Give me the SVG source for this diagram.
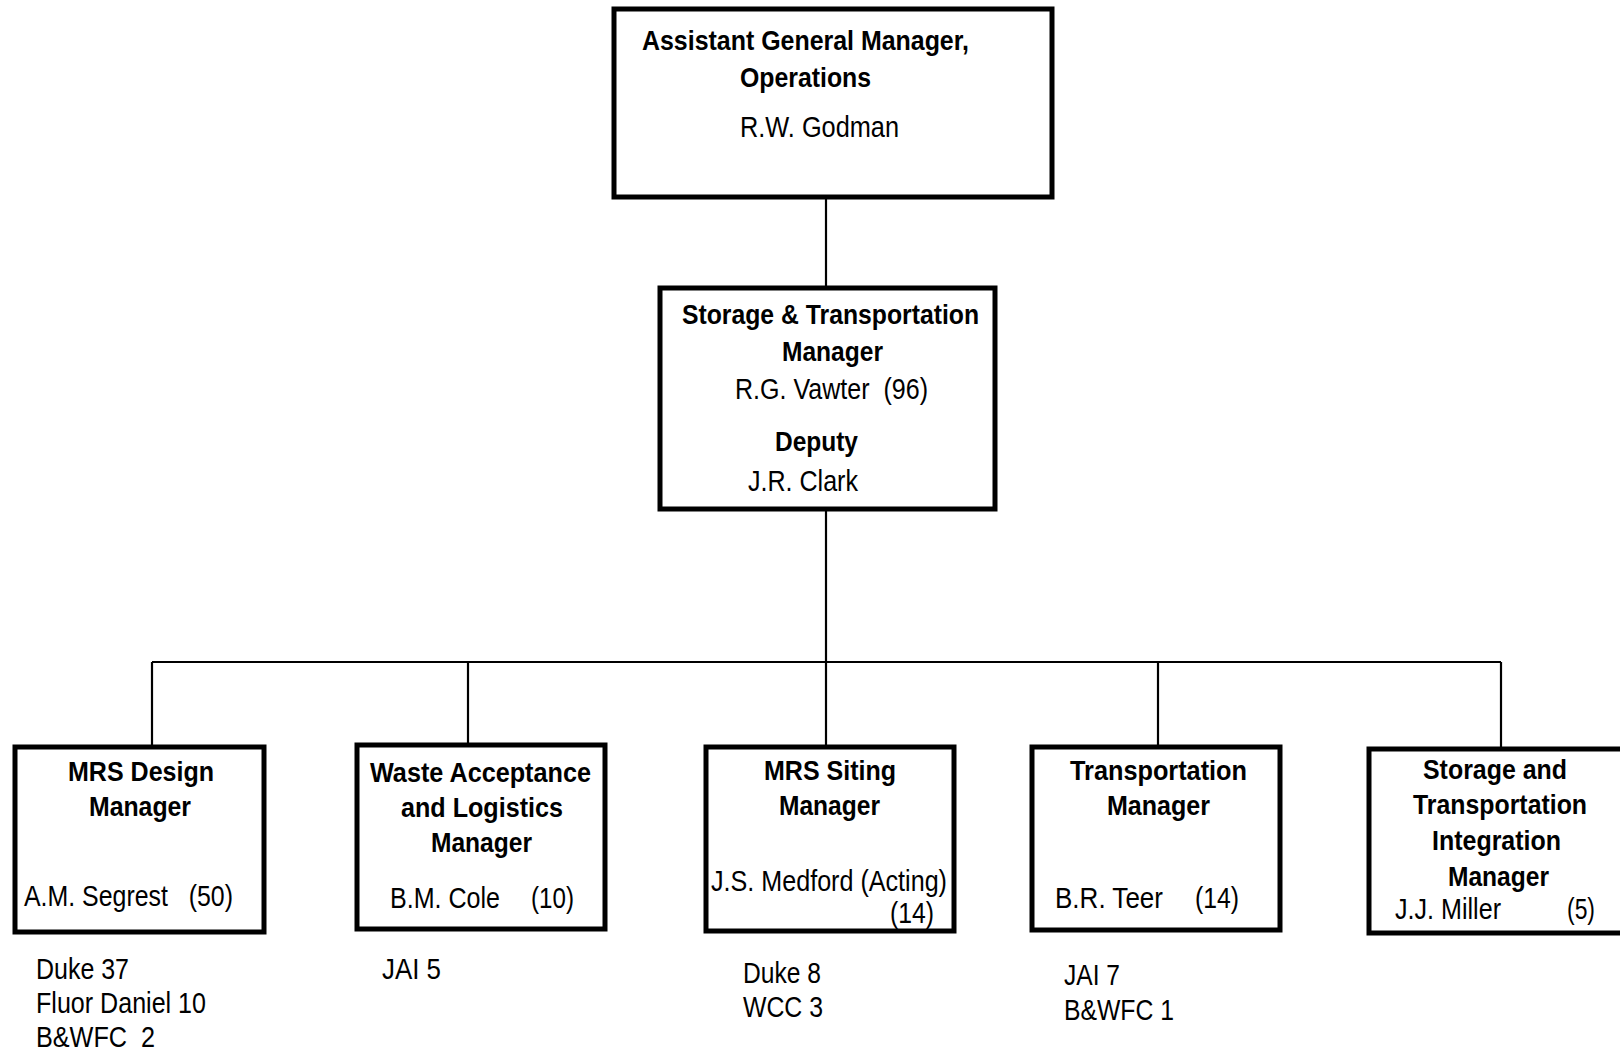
<svg xmlns="http://www.w3.org/2000/svg" width="1620" height="1052" viewBox="0 0 1620 1052">
<style>
.box{fill:#fff;stroke:#000;stroke-width:5}
.con{stroke:#000;stroke-width:2.2;fill:none}
text{font-family:"Liberation Sans",Arial,sans-serif;font-size:29.5px;fill:#000}
.b{font-weight:bold;font-size:28px}
.pre{white-space:pre}
</style>
<rect width="1620" height="1052" fill="#fff"/>
<g id="connectors">
<line class="con" x1="826" y1="198" x2="826" y2="286"/>
<line class="con" x1="826" y1="511" x2="826" y2="745"/>
<line class="con" x1="152" y1="662" x2="1501" y2="662"/>
<line class="con" x1="152" y1="662" x2="152" y2="745"/>
<line class="con" x1="468" y1="662" x2="468" y2="743"/>
<line class="con" x1="1158" y1="662" x2="1158" y2="745"/>
<line class="con" x1="1501" y1="662" x2="1501" y2="747"/>
</g>
<g id="agm">
<rect class="box" x="614" y="9" width="438" height="188"/>
<text class="b" x="642" y="50" textLength="327" lengthAdjust="spacingAndGlyphs">Assistant General Manager,</text>
<text class="b" x="740" y="87" textLength="131" lengthAdjust="spacingAndGlyphs">Operations</text>
<text x="740" y="137" textLength="159" lengthAdjust="spacingAndGlyphs">R.W. Godman</text>
</g>
<g id="stm">
<rect class="box" x="660" y="288" width="335" height="221"/>
<text class="b" x="682" y="324" textLength="297" lengthAdjust="spacingAndGlyphs">Storage &amp; Transportation</text>
<text class="b" x="782" y="361" textLength="101" lengthAdjust="spacingAndGlyphs">Manager</text>
<text class="pre" xml:space="preserve" x="735" y="399" textLength="193" lengthAdjust="spacingAndGlyphs">R.G. Vawter  (96)</text>
<text class="b" x="775" y="451" textLength="83" lengthAdjust="spacingAndGlyphs">Deputy</text>
<text x="748" y="491" textLength="110" lengthAdjust="spacingAndGlyphs">J.R. Clark</text>
</g>
<g id="mrs-design">
<rect class="box" x="15" y="747" width="249" height="185"/>
<text class="b" x="68" y="781" textLength="146" lengthAdjust="spacingAndGlyphs">MRS Design</text>
<text class="b" x="89" y="816" textLength="102" lengthAdjust="spacingAndGlyphs">Manager</text>
<text class="pre" xml:space="preserve" x="24" y="906" textLength="209" lengthAdjust="spacingAndGlyphs">A.M. Segrest   (50)</text>
<text x="36" y="979" textLength="93" lengthAdjust="spacingAndGlyphs">Duke 37</text>
<text x="36" y="1013" textLength="170" lengthAdjust="spacingAndGlyphs">Fluor Daniel 10</text>
<text class="pre" xml:space="preserve" x="36" y="1047" textLength="119" lengthAdjust="spacingAndGlyphs">B&amp;WFC  2</text>
</g>
<g id="waste">
<rect class="box" x="357" y="745" width="248" height="184"/>
<text class="b" x="370" y="782" textLength="221" lengthAdjust="spacingAndGlyphs">Waste Acceptance</text>
<text class="b" x="401" y="817" textLength="162" lengthAdjust="spacingAndGlyphs">and Logistics</text>
<text class="b" x="431" y="852" textLength="101" lengthAdjust="spacingAndGlyphs">Manager</text>
<text x="390" y="908" textLength="110" lengthAdjust="spacingAndGlyphs">B.M. Cole</text>
<text x="531" y="908" textLength="43" lengthAdjust="spacingAndGlyphs">(10)</text>
<text x="382" y="979" textLength="59" lengthAdjust="spacingAndGlyphs">JAI 5</text>
</g>
<g id="mrs-siting">
<rect class="box" x="706" y="747" width="248" height="184"/>
<text class="b" x="764" y="780" textLength="132" lengthAdjust="spacingAndGlyphs">MRS Siting</text>
<text class="b" x="779" y="815" textLength="101" lengthAdjust="spacingAndGlyphs">Manager</text>
<text x="711" y="891" textLength="236" lengthAdjust="spacingAndGlyphs">J.S. Medford (Acting)</text>
<text x="890" y="923" textLength="44" lengthAdjust="spacingAndGlyphs">(14)</text>
<text x="743" y="983" textLength="78" lengthAdjust="spacingAndGlyphs">Duke 8</text>
<text x="743" y="1017" textLength="80" lengthAdjust="spacingAndGlyphs">WCC 3</text>
</g>
<g id="transport">
<rect class="box" x="1032" y="747" width="248" height="183"/>
<text class="b" x="1070" y="780" textLength="177" lengthAdjust="spacingAndGlyphs">Transportation</text>
<text class="b" x="1107" y="815" textLength="103" lengthAdjust="spacingAndGlyphs">Manager</text>
<text x="1055" y="908" textLength="108" lengthAdjust="spacingAndGlyphs">B.R. Teer</text>
<text x="1195" y="908" textLength="44" lengthAdjust="spacingAndGlyphs">(14)</text>
<text x="1064" y="985" textLength="56" lengthAdjust="spacingAndGlyphs">JAI 7</text>
<text x="1064" y="1020" textLength="110" lengthAdjust="spacingAndGlyphs">B&amp;WFC 1</text>
</g>
<g id="integration">
<rect class="box" x="1369" y="749" width="254" height="184"/>
<text class="b" x="1423" y="779" textLength="144" lengthAdjust="spacingAndGlyphs">Storage and</text>
<text class="b" x="1413" y="814" textLength="174" lengthAdjust="spacingAndGlyphs">Transportation</text>
<text class="b" x="1432" y="850" textLength="129" lengthAdjust="spacingAndGlyphs">Integration</text>
<text class="b" x="1448" y="886" textLength="101" lengthAdjust="spacingAndGlyphs">Manager</text>
<text x="1395" y="919" textLength="106" lengthAdjust="spacingAndGlyphs">J.J. Miller</text>
<text x="1567" y="919" textLength="28" lengthAdjust="spacingAndGlyphs">(5)</text>
</g>
</svg>
